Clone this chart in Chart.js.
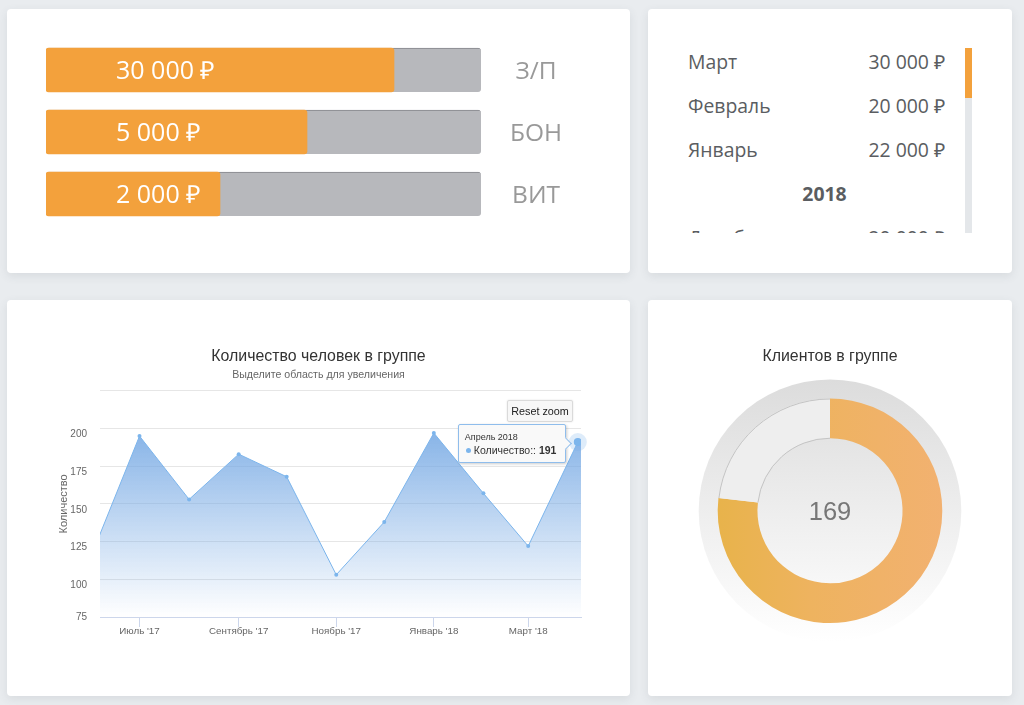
<!DOCTYPE html>
<html lang="ru">
<head>
<meta charset="utf-8">
<title>Группа</title>
<script src="https://cdn.jsdelivr.net/npm/chart.js@4"></script>
<style>
    html, body { margin: 0; padding: 0; width: 1024px; height: 705px; overflow: hidden; background: #e9ecef; }
    .card { position: absolute; background: #fff; border-radius: 4px; box-shadow: 0 3px 10px rgba(60, 70, 80, .10); }
    .card canvas { position: absolute; left: 0; top: 0; }
    #payCard { left: 7px; top: 9px; width: 623px; height: 264px; }
    #listCard { left: 648px; top: 9px; width: 364px; height: 264px; }
    #lineCard { left: 7px; top: 300px; width: 623px; height: 396px; }
    #gaugeCard { left: 648px; top: 300px; width: 364px; height: 396px; }

    #list { position: absolute; left: 40px; top: 39px; width: 257px; height: 185px; overflow: hidden;
        font: 19.4px "Open Sans", sans-serif; color: #5a5d61; }
    #list .row { display: flex; justify-content: space-between; height: 44px; line-height: 28px; }
    #list .year { text-align: center; font-weight: 700; height: 44px; line-height: 28px; padding-left: 16px; }
    #scrollTrack { position: absolute; left: 317px; top: 39px; width: 7px; height: 185px; background: #e4e7ea; }
    #scrollThumb { position: absolute; left: 0; top: 0; width: 7px; height: 50px; background: #f3a13c; }

    #resetZoom { position: absolute; left: 500px; top: 100px; width: 64px; height: 20px; line-height: 20px; text-align: center;
        background: #f7f7f7; border: 1px solid #dadada; border-radius: 2px; box-shadow: 0 0 2px rgba(0, 0, 0, .12);
        font: 10.8px/20px "Liberation Sans", sans-serif; color: #222; }
    #tip { position: absolute; width: 106px; height: 37px; background: #f9f9f9; border: 1px solid #8fbdec; border-radius: 2px;
        box-shadow: 1px 1px 3px rgba(0, 0, 0, .2); font: 10.5px "Liberation Sans", sans-serif; color: #333; }
    #tip:after { content: ""; position: absolute; right: -5px; top: 14px; width: 8px; height: 8px; background: #f9f9f9;
        border-top: 1px solid #8fbdec; border-right: 1px solid #8fbdec; transform: rotate(45deg); }
    #tip .head { position: absolute; left: 6px; top: 7px; font-size: 9px; }
    #tip .dot { position: absolute; left: 7px; top: 23px; width: 5px; height: 5px; border-radius: 50%; background: #7cb5ec; }
    #tip .body { position: absolute; left: 15px; top: 19px; white-space: nowrap; }
</style>
</head>
<body>
<div class="card" id="payCard"><canvas id="payChart" width="623" height="264"></canvas></div>
<div class="card" id="listCard">
    <div id="list"></div>
    <div id="scrollTrack"><div id="scrollThumb"></div></div>
</div>
<div class="card" id="lineCard">
    <canvas id="lineChart" width="623" height="396"></canvas>
    <div id="resetZoom">Reset zoom</div>
    <div id="tip"><span class="head"></span><span class="dot"></span><span class="body"></span></div>
</div>
<div class="card" id="gaugeCard"><canvas id="gaugeChart" width="364" height="396"></canvas></div>

<script>
// top left bars
const payCategories = ['З/П', 'БОН', 'ВИТ'];
const payPercent = [80, 60, 40];
const payTrack = [100, 100, 100];
const payLabels = ['30 000 ₽', '5 000 ₽', '2 000 ₽'];

// top right list
const listMonths = ['Март', 'Февраль', 'Январь', '2018', 'Декабрь'];
const listSums = ['30 000 ₽', '20 000 ₽', '22 000 ₽', '', '20 000 ₽'];

// line chart, x = days from 1 July 2017
const lineDays = [-30, 0, 31, 62, 92, 123, 153, 184, 215, 243, 274, 304];
const lineValues = [116, 195, 153, 183, 168, 103, 138, 197, 157, 122, 191, 200];
const tickDays = [0, 62, 123, 184, 243];
const tickNames = ["Июль '17", "Сентябрь '17", "Ноябрь '17", "Январь '18", "Март '18"];
const yTicks = [75, 100, 125, 150, 175, 200, 225];
const tipTitle = 'Апрель 2018';
const tipSeries = 'Количество:';
const tipIndex = 10;

// gauge
const gaugeValue = 169;
const gaugeMax = 220;

const sans = '"Liberation Sans", sans-serif';
const open = '"Open Sans", sans-serif';

// ---------- bars
const payTextPlugin = {
    id: 'payText',
    afterDatasetsDraw(chart) {
        const ctx = chart.ctx;
        ctx.save();
        ctx.fillStyle = '#fff';
        ctx.font = '25px ' + open;
        ctx.textBaseline = 'middle';
        chart.getDatasetMeta(1).data.forEach(function (bar, i) {
            ctx.fillText(payLabels[i], bar.base + 70, bar.y + 1.5);
        });
        ctx.restore();
    }
};

new Chart(document.getElementById('payChart'), {
    type: 'bar',
    data: {
        labels: payCategories,
        datasets: [
            { data: payTrack, backgroundColor: '#b7b8bc', borderColor: '#85868b', borderWidth: { top: 1 }, borderSkipped: false, borderRadius: 3, order: 2 },
            { data: payPercent, backgroundColor: '#f3a13c', borderRadius: 3, borderSkipped: false, order: 1 }
        ]
    },
    options: {
        indexAxis: 'y',
        responsive: false,
        animation: false,
        layout: { padding: { left: 39, right: 40, top: 30, bottom: 48 } },
        datasets: { bar: { grouped: false, barThickness: 44 } },
        plugins: { legend: { display: false }, tooltip: { enabled: false } },
        scales: {
            x: { display: false, min: 0, max: 100 },
            y: {
                position: 'right',
                // invisible tick length moves the labels away from the bars
                grid: { display: false, drawTicks: true, tickLength: 29 },
                border: { display: false },
                afterFit(scale) { scale.width = 109; },
                ticks: { crossAlign: 'center', padding: 0, labelOffset: 2.5, color: '#999', font: { family: open, size: 24.5 } }
            }
        }
    },
    plugins: [payTextPlugin]
});

// ---------- list
const listBox = document.getElementById('list');
listMonths.forEach(function (name, i) {
    const row = document.createElement('div');
    if (listSums[i] === '') {
        row.className = 'year';
        row.textContent = name;
    } else {
        row.className = 'row';
        row.innerHTML = '<span>' + name + '</span><span>' + listSums[i] + '</span>';
    }
    listBox.appendChild(row);
});

// ---------- line chart
const tipPlugin = {
    id: 'tipPlace',
    afterRender(chart) {
        const point = chart.getDatasetMeta(0).data[tipIndex];
        const tip = document.getElementById('tip');
        tip.style.left = (point.x - 120) + 'px';
        tip.style.top = (point.y - 18) + 'px';
    }
};

document.querySelector('#tip .head').textContent = tipTitle;
document.querySelector('#tip .body').innerHTML = tipSeries + ': <b>' + lineValues[tipIndex] + '</b>';

new Chart(document.getElementById('lineChart'), {
    type: 'line',
    data: {
        datasets: [
            {
                data: lineDays.map(function (d, i) { return { x: d, y: lineValues[i] }; }),
                borderColor: '#7cb5ec',
                borderWidth: 1,
                tension: 0,
                fill: 'start',
                pointBackgroundColor: '#7cb5ec',
                pointBorderWidth: 0,
                pointRadius: function (c) { return c.dataIndex === tipIndex ? 4 : 2; },
                backgroundColor: function (c) {
                    const chart = c.chart;
                    if (!chart.chartArea) return 'rgba(120,170,228,.8)';
                    const g = chart.ctx.createLinearGradient(0, chart.scales.y.getPixelForValue(200), 0, chart.chartArea.bottom);
                    g.addColorStop(0, 'rgba(120,170,228,.9)');
                    g.addColorStop(1, 'rgba(120,170,228,0)');
                    return g;
                }
            },
            {
                // halo of the hovered point
                data: [{ x: lineDays[tipIndex], y: lineValues[tipIndex] }],
                showLine: false,
                clip: false,
                pointRadius: 9,
                pointBorderWidth: 0,
                pointBackgroundColor: 'rgba(124,181,236,.25)'
            }
        ]
    },
    options: {
        responsive: false,
        animation: false,
        layout: { padding: { left: 49, right: 49, bottom: 49 } },
        plugins: {
            legend: { display: false },
            tooltip: { enabled: false },
            title: {
                display: true,
                text: 'Количество человек в группе',
                color: '#333',
                font: { family: sans, size: 15.9, weight: 'normal' },
                padding: { top: 47, bottom: 3 }
            },
            subtitle: {
                display: true,
                text: 'Выделите область для увеличения',
                color: '#666',
                font: { family: sans, size: 10.6, weight: 'normal' },
                padding: { top: 0, bottom: 9 }
            }
        },
        scales: {
            x: {
                type: 'linear',
                min: -24.7,
                max: 276,
                afterBuildTicks(scale) { scale.ticks = tickDays.map(function (d) { return { value: d }; }); },
                afterFit(scale) { scale.height = 30; },
                grid: { drawOnChartArea: false, color: '#ccd6eb', tickLength: 10 },
                border: { color: '#ccd6eb' },
                ticks: {
                    autoSkip: false,
                    maxRotation: 0,
                    padding: -2,
                    color: '#666',
                    font: { family: sans, size: 9.8 },
                    callback: function (v) { return tickNames[tickDays.indexOf(v)]; }
                }
            },
            y: {
                min: yTicks[0],
                max: yTicks[yTicks.length - 1],
                afterBuildTicks(scale) { scale.ticks = yTicks.map(function (v) { return { value: v }; }); },
                afterFit(scale) { scale.width = 44; },
                grid: { color: '#e6e6e6', drawTicks: false },
                border: { display: false },
                title: {
                    display: true,
                    text: 'Количество',
                    color: '#666',
                    font: { family: sans, size: 11 },
                    padding: { top: 1.4, bottom: 0 }
                },
                ticks: {
                    autoSkip: false,
                    padding: 13,
                    color: '#666',
                    font: { family: sans, size: 10, lineHeight: '12px' },
                    // the empty first line pushes the number below its grid line
                    callback: function (v) {
                        if (v === yTicks[yTicks.length - 1]) return '';
                        if (v === yTicks[0]) return String(v);
                        return ['', String(v)];
                    }
                }
            }
        }
    },
    plugins: [tipPlugin]
});

// ---------- gauge
const gaugePlugin = {
    id: 'gaugeBack',
    beforeDatasetsDraw(chart) {
        const arc = chart.getDatasetMeta(0).data[0];
        const ctx = chart.ctx;
        const r = arc.outerRadius + 19;
        const g = ctx.createLinearGradient(0, arc.y - r, 0, arc.y + r);
        g.addColorStop(0, '#dcdcdc');
        g.addColorStop(1, '#ffffff');
        ctx.save();
        ctx.fillStyle = g;
        ctx.beginPath();
        ctx.arc(arc.x, arc.y, r, 0, Math.PI * 2);
        ctx.fill();
        ctx.restore();
    },
    afterDatasetsDraw(chart) {
        const arc = chart.getDatasetMeta(0).data[0];
        const rest = chart.getDatasetMeta(0).data[1];
        const ctx = chart.ctx;
        ctx.save();
        // thin rim on the curved edges of the empty part only
        ctx.strokeStyle = '#c4c4c4';
        ctx.lineWidth = 1;
        [rest.outerRadius - 0.5, rest.innerRadius].forEach(function (r) {
            ctx.beginPath();
            ctx.arc(rest.x, rest.y, r, rest.startAngle, rest.endAngle);
            ctx.stroke();
        });
        ctx.fillStyle = '#777';
        ctx.font = '25.5px ' + sans;
        ctx.textAlign = 'center';
        ctx.textBaseline = 'middle';
        ctx.fillText(String(gaugeValue), arc.x, arc.y + 2);
        ctx.restore();
    }
};

new Chart(document.getElementById('gaugeChart'), {
    type: 'doughnut',
    data: {
        labels: ['Клиенты', 'Свободно'],
        datasets: [{
            data: [gaugeValue, gaugeMax - gaugeValue],
            backgroundColor: function (c) {
                if (c.dataIndex === 1) return '#eeeeee';
                const g = c.chart.ctx.createLinearGradient(70, 0, 300, 0);
                g.addColorStop(0, '#e8b34b');
                g.addColorStop(0.4, '#eeb35f');
                g.addColorStop(1, '#f2b171');
                return g;
            },
            borderWidth: 0,
            radius: 112.3,
            cutout: '64.6%'
        }]
    },
    options: {
        responsive: false,
        animation: false,
        layout: { padding: { bottom: 49 } },
        plugins: {
            legend: { display: false },
            tooltip: { enabled: false },
            title: {
                display: true,
                text: 'Клиентов в группе',
                color: '#333',
                font: { family: sans, size: 15.9, weight: 'normal' },
                padding: { top: 47.5, bottom: 8 }
            }
        }
    },
    plugins: [gaugePlugin]
});
</script>
</body>
</html>
